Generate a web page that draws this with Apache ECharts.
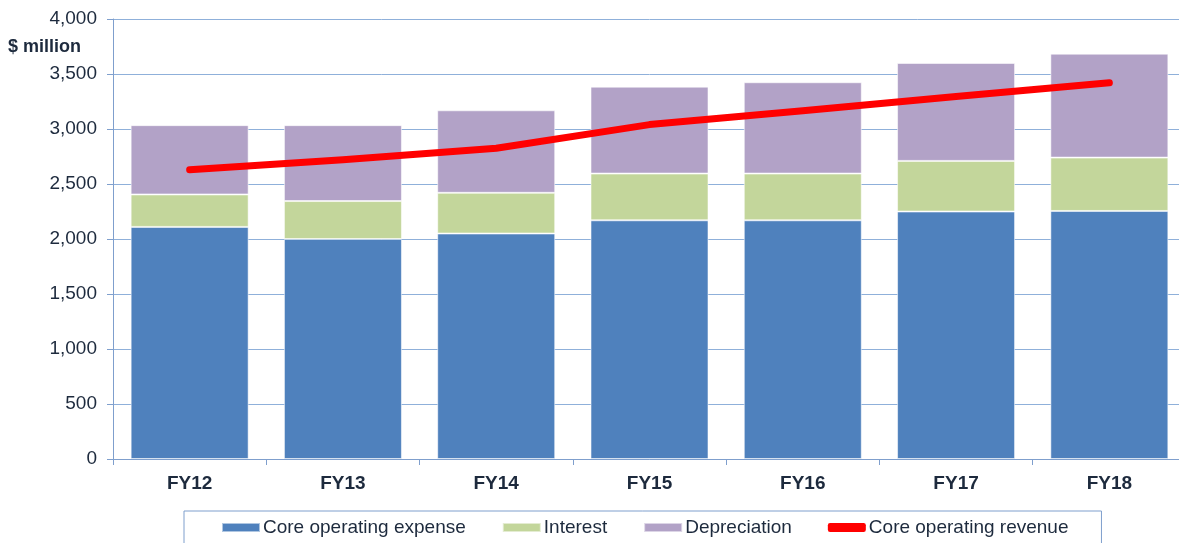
<!DOCTYPE html>
<html>
<head>
<meta charset="utf-8">
<script src="https://cdn.jsdelivr.net/npm/echarts@6/dist/echarts.min.js"></script>
<style>
  html, body { margin: 0; padding: 0; background: #fff; overflow: hidden; }
  #chart { width: 1186px; height: 543px; }
</style>
</head>
<body>
<div id="chart"></div>
<script>
const years = ['FY12', 'FY13', 'FY14', 'FY15', 'FY16', 'FY17', 'FY18'];
const coreExpense = [2110, 2000, 2050, 2170, 2170, 2250, 2255];
const interest = [295, 345, 370, 425, 425, 460, 485];
const depreciation = [630, 690, 750, 790, 830, 890, 945];
const coreRevenue = [2630, 2720, 2825, 3040, 3165, 3295, 3420];

const FONT = '"Liberation Sans", Arial, sans-serif';
const TEXT = '#1d2a3d';

const chart = echarts.init(document.getElementById('chart'), null, { renderer: 'canvas' });

const barStyle = color => ({
  color,
  borderColor: 'rgba(255,255,255,0.55)',
  borderWidth: 1,
});

chart.setOption({
  animation: false,
  textStyle: { fontFamily: FONT },
  // plot runs slightly past the right edge of the picture, as in the source
  grid: { left: 113, top: 19, right: 0, bottom: 84 },
  graphic: [{
    type: 'text',
    left: 8,
    top: 38,
    style: { text: '$ million', font: 'bold 18px ' + FONT, fill: TEXT },
  }],
  legend: {
    left: 184,
    top: 511,
    padding: [7, 33, 12, 37],
    itemGap: 36,
    itemWidth: 38,
    itemHeight: 9,
    borderColor: '#7f9fcd',
    borderWidth: 1,
    textStyle: { fontSize: 19, color: TEXT, fontFamily: FONT, padding: [0, 0, 0, -2] },
    data: [
      { name: 'Core operating expense', icon: 'rect' },
      { name: 'Interest', icon: 'rect' },
      { name: 'Depreciation', icon: 'rect' },
      { name: 'Core operating revenue', icon: 'roundRect' },
    ],
  },
  xAxis: {
    type: 'category',
    data: years,
    axisLine: { lineStyle: { color: '#7f9fcd', width: 1 } },
    axisTick: { show: true, length: 6, lineStyle: { color: '#7f9fcd' } },
    axisLabel: { fontSize: 19, fontWeight: 'bold', color: TEXT, margin: 15 },
  },
  yAxis: {
    type: 'value',
    min: 0,
    max: 4000,
    interval: 500,
    axisLine: { show: true, lineStyle: { color: '#7f9fcd', width: 1 } },
    axisTick: { show: true, length: 6, lineStyle: { color: '#7f9fcd' } },
    axisLabel: {
      fontSize: 19,
      color: TEXT,
      margin: 16,
      formatter: v => v.toLocaleString('en-US'),
    },
    splitLine: { lineStyle: { color: '#8fb0da', width: 1 } },
  },
  series: [
    {
      name: 'Core operating expense',
      type: 'bar',
      stack: 'total',
      barWidth: 118,
      itemStyle: barStyle('#4f81bd'),
      data: coreExpense,
    },
    {
      name: 'Interest',
      type: 'bar',
      stack: 'total',
      itemStyle: barStyle('#c3d69b'),
      data: interest,
    },
    {
      name: 'Depreciation',
      type: 'bar',
      stack: 'total',
      itemStyle: barStyle('#b2a2c7'),
      data: depreciation,
    },
    {
      name: 'Core operating revenue',
      type: 'line',
      symbol: 'none',
      lineStyle: { color: '#ff0000', width: 7, cap: 'round', join: 'round' },
      itemStyle: { color: '#ff0000' },
      z: 5,
      data: coreRevenue,
    },
  ],
});
</script>
</body>
</html>
